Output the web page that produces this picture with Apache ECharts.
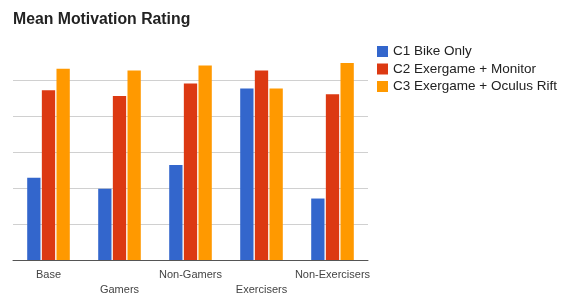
<!DOCTYPE html>
<html>
<head>
<meta charset="utf-8">
<script src="https://cdn.jsdelivr.net/npm/echarts@6/dist/echarts.min.js"></script>
<style>
  html, body { margin: 0; padding: 0; background: #fff; }
  #chart { width: 567px; height: 297px; }
</style>
</head>
<body>
<div id="chart"></div>
<script>
// groups along the x axis
const categories = ["Base", "Gamers", "Non-Gamers", "Exercisers", "Non-Exercisers"];
// mean rating per condition
const c1BikeOnly = [2.29, 1.98, 2.64, 4.77, 1.71];
const c2Monitor = [4.72, 4.56, 4.91, 5.27, 4.61];
const c3Oculus = [5.32, 5.27, 5.41, 4.77, 5.48];
const seriesNames = ["C1 Bike Only", "C2 Exergame + Monitor", "C3 Exergame + Oculus Rift"];

let chart = echarts.init(document.getElementById("chart"));

const bar = (name, data, color) => ({
  name: name,
  type: "bar",
  data: data,
  barGap: "10%",
  barCategoryGap: "40%",
  itemStyle: { color: color },
  emphasis: { disabled: true }
});

// grid lines for 0..5 are shown, the top one (6) is not in the picture
const gridColors = ["#d0d0d0", "#d0d0d0", "#d0d0d0", "#d0d0d0", "#d0d0d0", "#d0d0d0", "rgba(0,0,0,0)"];

chart.setOption({
  animation: false,
  textStyle: { fontFamily: "Liberation Sans, Arial, sans-serif" },
  title: {
    text: "Mean Motivation Rating",
    left: 13,
    top: 12,
    padding: 0,
    textStyle: { fontSize: 15.8, fontWeight: "bold", color: "#222" }
  },
  legend: {
    orient: "vertical",
    left: 377,
    top: 44.5,
    padding: 0,
    itemWidth: 11,
    itemHeight: 11,
    itemGap: 3.5,
    icon: "rect",
    textStyle: { fontSize: 13.5, color: "#222", padding: [0, 0, 0, 0] },
    data: seriesNames
  },
  grid: { left: 13, right: 199, top: 44.3, bottom: 36.7 },
  xAxis: {
    type: "category",
    data: categories,
    axisTick: { show: false },
    axisLine: { lineStyle: { color: "#555", width: 1 } },
    axisLabel: {
      interval: 0,
      fontSize: 11,
      color: "#444",
      lineHeight: 15,
      margin: 7,
      formatter: (v, i) => (i % 2 === 1 ? "\n" + v : v)
    }
  },
  yAxis: {
    type: "value",
    min: 0,
    max: 6,
    interval: 1,
    axisLabel: { show: false },
    axisLine: { show: false },
    axisTick: { show: false },
    splitLine: { lineStyle: { color: gridColors } }
  },
  series: [
    bar(seriesNames[0], c1BikeOnly, "#3366cc"),
    bar(seriesNames[1], c2Monitor, "#dc3912"),
    bar(seriesNames[2], c3Oculus, "#ff9900")
  ]
});
</script>
</body>
</html>
